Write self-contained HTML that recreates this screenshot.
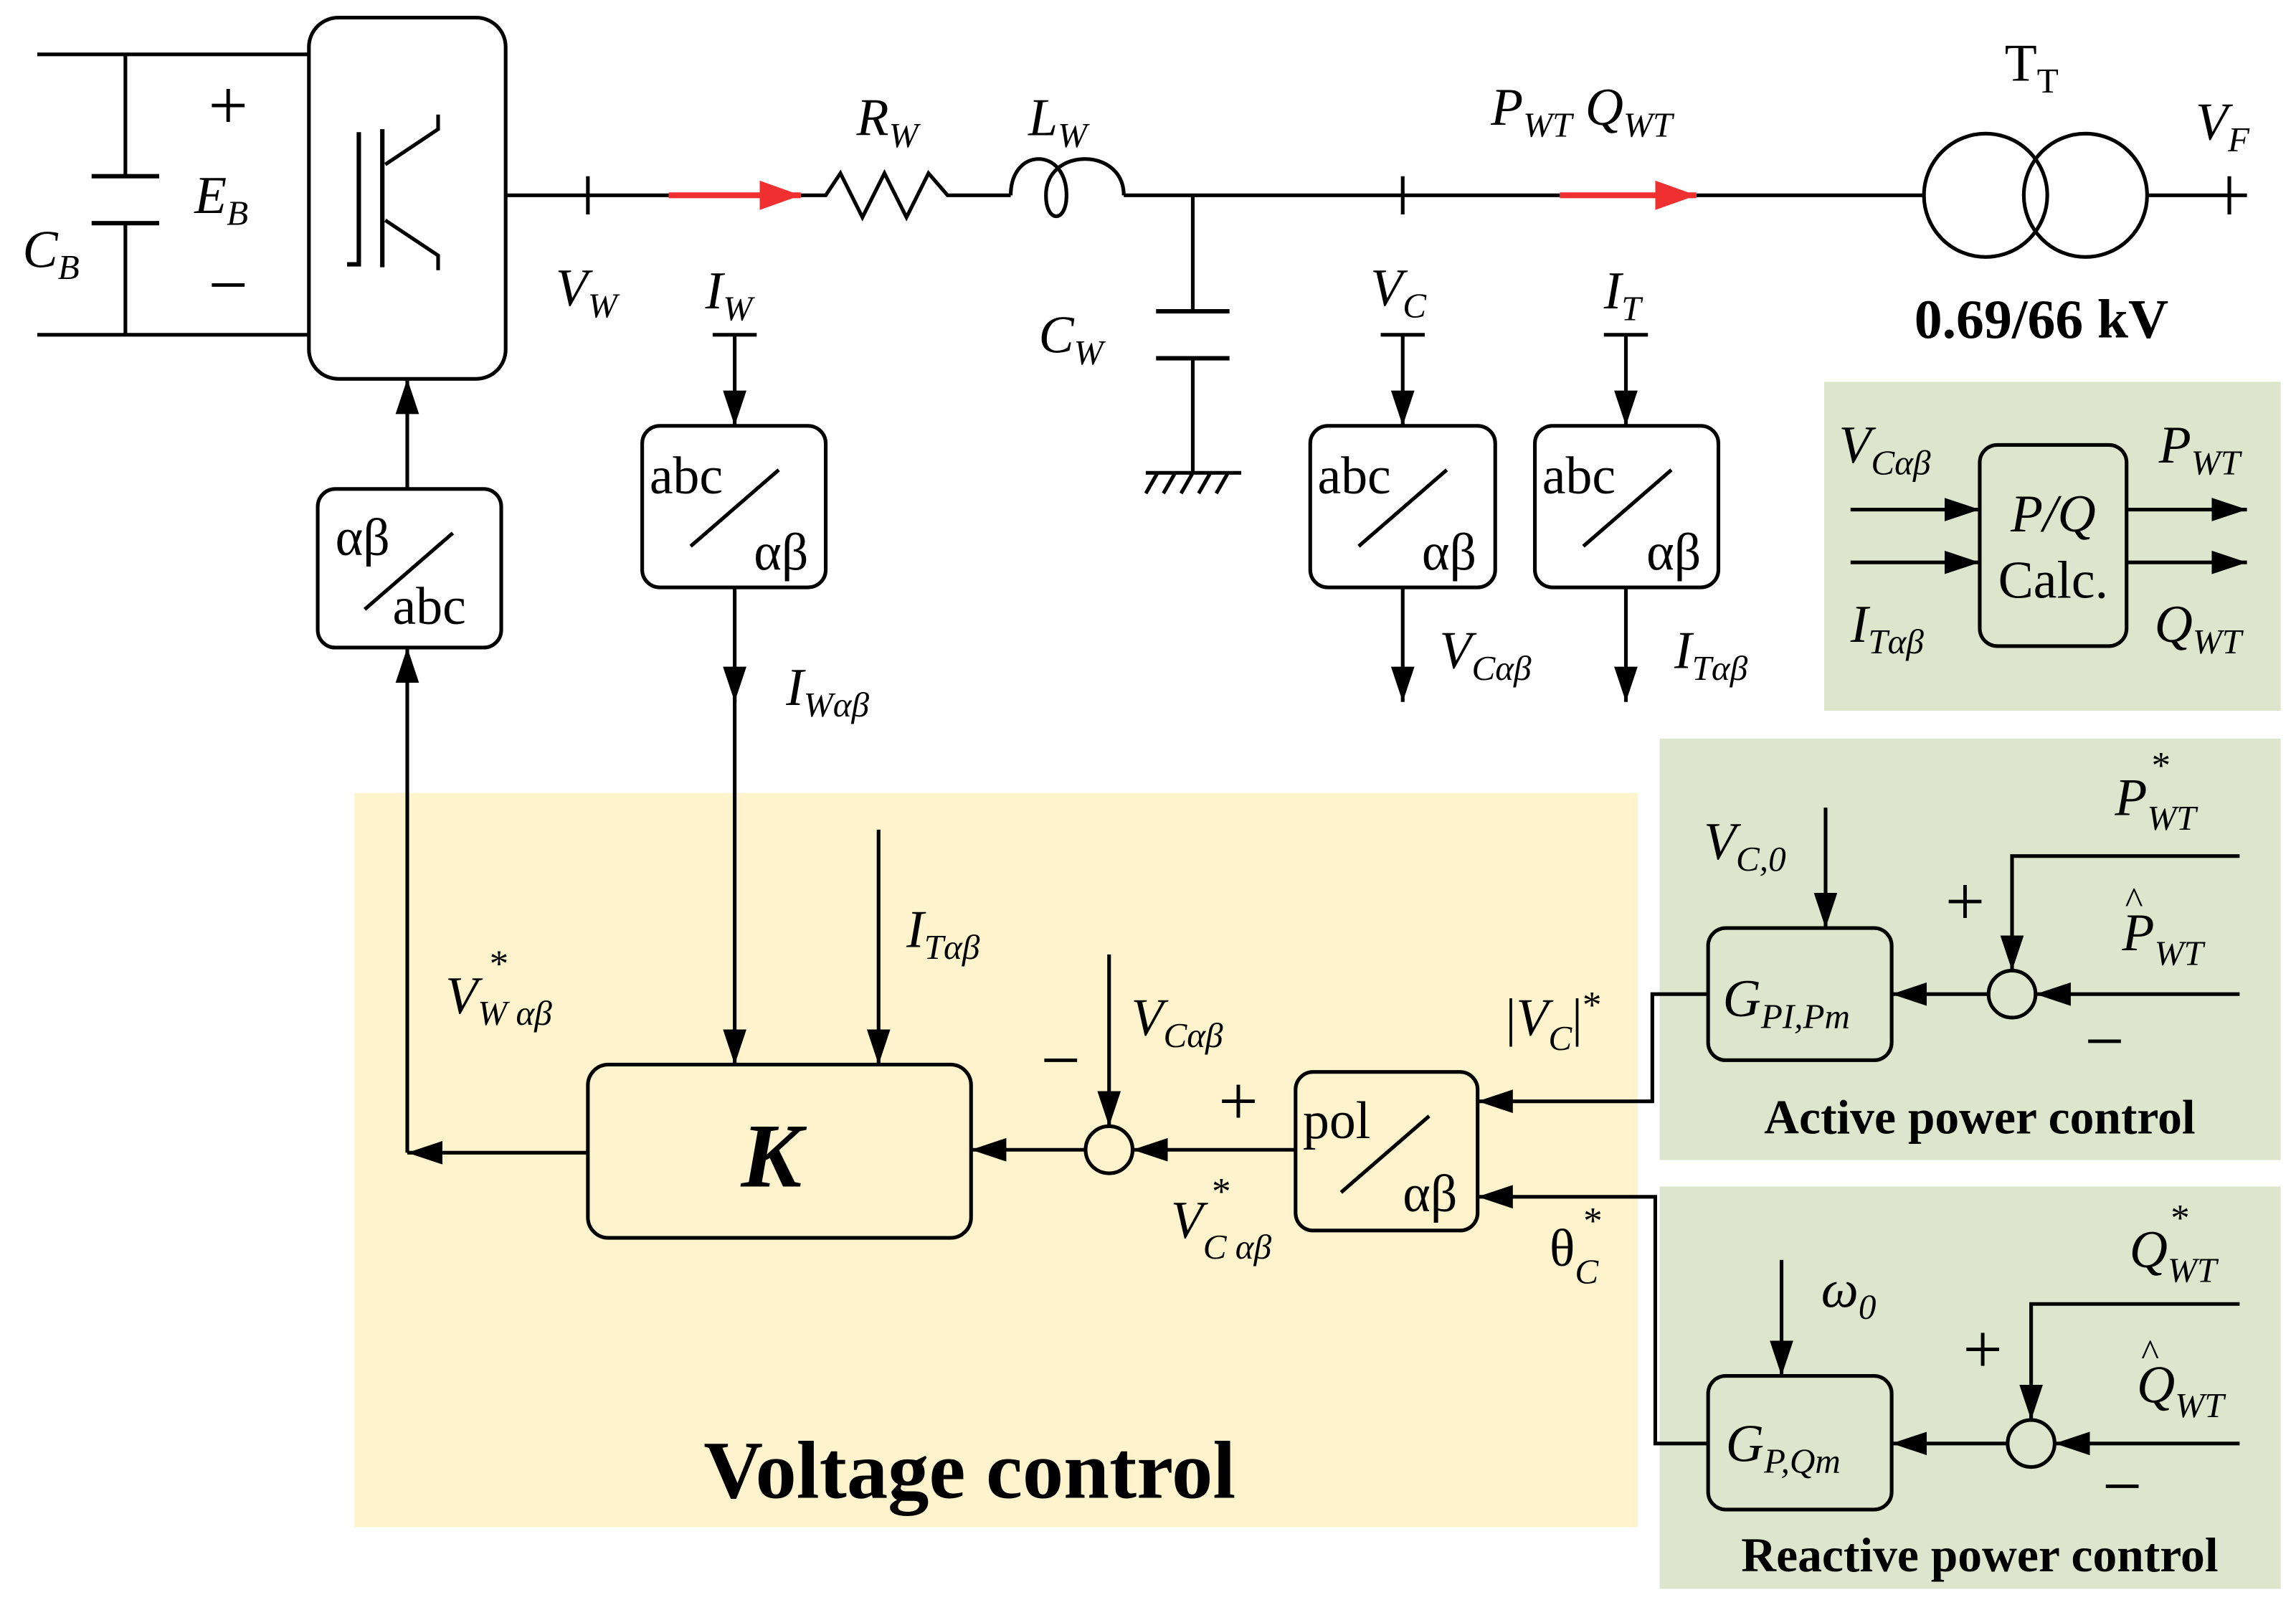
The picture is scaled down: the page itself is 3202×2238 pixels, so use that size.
<!DOCTYPE html>
<html><head><meta charset="utf-8"><style>
html,body{margin:0;padding:0;background:#fff;}
svg{display:block;}
text{font-family:"Liberation Serif",serif;fill:#000;}
.it{font-style:italic;}
.b{font-weight:bold;}
</style></head><body>
<svg width="3202" height="2238" viewBox="0 0 1563 1093" xmlns="http://www.w3.org/2000/svg">
<defs>
<marker id="ar" markerUnits="userSpaceOnUse" markerWidth="26" markerHeight="18" refX="24" refY="8" orient="auto"><path d="M0,0 L24,8 L0,16 z" fill="#000"/></marker>
<marker id="rr" markerUnits="userSpaceOnUse" markerWidth="30" markerHeight="22" refX="28" refY="10" orient="auto"><path d="M0,0 L28,10 L0,20 z" fill="#f03030"/></marker>
</defs>
<rect x="241" y="540" width="874" height="500" fill="#fdf3cc"/>
<rect x="1242" y="260" width="311" height="224" fill="#dde6cd"/>
<rect x="1130" y="503" width="423" height="287" fill="#dde6cd"/>
<rect x="1130" y="808" width="423" height="274" fill="#dde6cd"/>
<g stroke="#000" stroke-width="2.5" fill="none">
<path d="M25,37 H210 M25,228 H210 M85,37 V120 M85,152 V228"/>
<path d="M62,120 H108 M62,152 H108" stroke-width="3"/>
<rect x="210" y="12" width="134" height="246" rx="20"/>
<path d="M244,90 V180 H236 M260,88 V182" stroke-width="3"/>
<path d="M262,112 L298,88 V78 M262,150 L298,174 V184"/>
<path d="M344,133 H455 M545,133 H562 L572,118 L587,148 L602,118 L617,148 L632,118 L645,133 H688 M765,133 H1062 M1155,133 H1310 M1462,133 H1530"/>
<path d="M688,133 C688,100 726,100 726,133 C726,152 712,152 712,133 C712,100 765,100 765,133"/>
<path d="M400,120 V146 M955,120 V146 M1518,120 V146"/>
<circle cx="1352" cy="133" r="42"/><circle cx="1420" cy="133" r="42"/>
<path d="M812,133 V212 M812,244 V322 M780,322 H845 M788,322 L780,336 M800,322 L792,336 M812,322 L804,336 M824,322 L816,336 M836,322 L828,336"/>
<path d="M787,212 H837 M787,244 H837" stroke-width="3"/>
</g>
<g stroke="#f03030" stroke-width="4" fill="none">
<path d="M455,133 H545" marker-end="url(#rr)"/>
<path d="M1062,133 H1155" marker-end="url(#rr)"/>
</g>
<g stroke="#000" stroke-width="2.5" fill="none">
<path d="M485,228 H515 M940,228 H970 M1092,228 H1122"/>
<path d="M500,228 V290" marker-end="url(#ar)"/>
<path d="M955,228 V290" marker-end="url(#ar)"/>
<path d="M1107,228 V290" marker-end="url(#ar)"/>
<rect x="437" y="290" width="125" height="110" rx="12"/>
<rect x="892" y="290" width="126" height="110" rx="12"/>
<rect x="1045" y="290" width="125" height="110" rx="12"/>
<rect x="216" y="333" width="125" height="108" rx="12"/>
<path d="M470,372 L530,320 M925,372 L985,320 M1078,372 L1138,320 M248,415 L308,363"/>
<path d="M955,400 V478" marker-end="url(#ar)"/>
<path d="M1107,400 V478" marker-end="url(#ar)"/>
<path d="M500,400 V478" marker-end="url(#ar)"/>
<path d="M500,470 V725" marker-end="url(#ar)"/>
<path d="M277,333 V258" marker-end="url(#ar)"/>
<path d="M277,785 V441" marker-end="url(#ar)"/>
<path d="M400,785 H277" marker-end="url(#ar)"/>
<rect x="400" y="725" width="261" height="118" rx="14"/>
<path d="M598,565 V725" marker-end="url(#ar)"/>
<circle cx="755" cy="783" r="16"/>
<path d="M739,783 H661" marker-end="url(#ar)"/>
<path d="M755,650 V767" marker-end="url(#ar)"/>
<path d="M882,783 H771" marker-end="url(#ar)"/>
<rect x="882" y="730" width="124" height="108" rx="12"/>
<path d="M913,812 L973,760"/>
<path d="M1163,677 H1125 V750 H1006" marker-end="url(#ar)"/>
<path d="M1163,983 H1127 V815 H1006" marker-end="url(#ar)"/>
<rect x="1163" y="632" width="125" height="90" rx="12"/>
<path d="M1243,550 V632" marker-end="url(#ar)"/>
<circle cx="1370" cy="677" r="16"/>
<path d="M1354,677 H1288" marker-end="url(#ar)"/>
<path d="M1525,583 H1370 V661" marker-end="url(#ar)"/>
<path d="M1525,677 H1386" marker-end="url(#ar)"/>
<rect x="1163" y="937" width="125" height="91" rx="12"/>
<path d="M1213,858 V937" marker-end="url(#ar)"/>
<circle cx="1383" cy="983" r="16"/>
<path d="M1367,983 H1288" marker-end="url(#ar)"/>
<path d="M1525,888 H1383 V967" marker-end="url(#ar)"/>
<path d="M1525,983 H1399" marker-end="url(#ar)"/>
<rect x="1348" y="303" width="100" height="137" rx="12"/>
<path d="M1260,347 H1348" marker-end="url(#ar)"/>
<path d="M1260,383 H1348" marker-end="url(#ar)"/>
<path d="M1448,347 H1530" marker-end="url(#ar)"/>
<path d="M1448,383 H1530" marker-end="url(#ar)"/>
</g>
<g font-size="36">
<text x="155" y="88" text-anchor="middle" font-size="48">+</text>
<text x="155" y="210" text-anchor="middle" font-size="48">−</text>
<text x="132" y="145" class="it">E<tspan font-size="24" dy="8">B</tspan></text>
<text x="15" y="182" class="it">C<tspan font-size="24" dy="8">B</tspan></text>
<text x="583" y="92" class="it">R<tspan font-size="24" dy="8">W</tspan></text>
<text x="700" y="92" class="it">L<tspan font-size="24" dy="8">W</tspan></text>
<text x="1015" y="85" class="it">P<tspan font-size="24" dy="8">WT</tspan><tspan dy="-8"> Q</tspan><tspan font-size="24" dy="8">WT</tspan></text>
<text x="1365" y="55">T<tspan font-size="24" dy="8">T</tspan></text>
<text x="1495" y="95" class="it">V<tspan font-size="24" dy="8">F</tspan></text>
<text x="1390" y="230" text-anchor="middle" class="b" font-size="38">0.69/66 kV</text>
<text x="378" y="208" class="it">V<tspan font-size="24" dy="8">W</tspan></text>
<text x="480" y="210" class="it">I<tspan font-size="24" dy="8">W</tspan></text>
<text x="707" y="240" class="it">C<tspan font-size="24" dy="8">W</tspan></text>
<text x="933" y="208" class="it">V<tspan font-size="24" dy="8">C</tspan></text>
<text x="1092" y="210" class="it">I<tspan font-size="24" dy="8">T</tspan></text>
<text x="442" y="336">abc</text><text x="513" y="388">αβ</text>
<text x="897" y="336">abc</text><text x="968" y="388">αβ</text>
<text x="1050" y="336">abc</text><text x="1121" y="388">αβ</text>
<text x="228" y="378">αβ</text><text x="267" y="425">abc</text>
<text x="887" y="775">pol</text><text x="955" y="825">αβ</text>
<text x="535" y="480" class="it">I<tspan font-size="24" dy="8">Wαβ</tspan></text>
<text x="980" y="455" class="it">V<tspan font-size="24" dy="8">Cαβ</tspan></text>
<text x="1140" y="455" class="it">I<tspan font-size="24" dy="8">Tαβ</tspan></text>
<text x="617" y="645" class="it">I<tspan font-size="24" dy="8">Tαβ</tspan></text>
<text x="303" y="690" class="it">V<tspan font-size="24" dy="8">W αβ</tspan></text>
<text x="333" y="665" font-size="26">*</text>
<text x="525" y="808" text-anchor="middle" class="b it" font-size="62">K</text>
<text x="722" y="738" text-anchor="middle" font-size="48">−</text>
<text x="770" y="705" class="it">V<tspan font-size="24" dy="8">Cαβ</tspan></text>
<text x="843" y="766" text-anchor="middle" font-size="48">+</text>
<text x="797" y="843" class="it">V<tspan font-size="24" dy="14">C αβ</tspan></text>
<text x="825" y="820" font-size="26">*</text>
<text x="1025" y="705">|<tspan class="it">V</tspan><tspan font-size="24" dy="10" class="it">C</tspan><tspan dy="-10">|</tspan><tspan font-size="26" dy="-12">*</tspan></text>
<text x="1055" y="862">θ<tspan font-size="24" dy="12" class="it">C</tspan></text>
<text x="1078" y="840" font-size="26">*</text>
<text x="1160" y="585" class="it">V<tspan font-size="24" dy="8">C,0</tspan></text>
<text x="1440" y="555" class="it">P<tspan font-size="24" dy="10">WT</tspan></text>
<text x="1465" y="530" font-size="26">*</text>
<text x="1338" y="630" text-anchor="middle" font-size="48">+</text>
<text x="1445" y="647" class="it">P<tspan font-size="24" dy="10">WT</tspan></text>
<text x="1447" y="622" font-size="26">^</text>
<text x="1433" y="725" text-anchor="middle" font-size="48">−</text>
<text x="1173" y="692" class="it">G<tspan font-size="24" dy="8">PI,Pm</tspan></text>
<text x="1348" y="772" text-anchor="middle" class="b" font-size="33">Active power control</text>
<text x="1240" y="890" class="it">ω<tspan font-size="24" dy="8">0</tspan></text>
<text x="1450" y="863" class="it">Q<tspan font-size="24" dy="10">WT</tspan></text>
<text x="1478" y="838" font-size="26">*</text>
<text x="1350" y="935" text-anchor="middle" font-size="48">+</text>
<text x="1455" y="955" class="it">Q<tspan font-size="24" dy="10">WT</tspan></text>
<text x="1458" y="930" font-size="26">^</text>
<text x="1445" y="1028" text-anchor="middle" font-size="48">−</text>
<text x="1175" y="995" class="it">G<tspan font-size="24" dy="8">P,Qm</tspan></text>
<text x="1348" y="1070" text-anchor="middle" class="b" font-size="33">Reactive power control</text>
<text x="1252" y="315" class="it">V<tspan font-size="24" dy="8">Cαβ</tspan></text>
<text x="1260" y="437" class="it">I<tspan font-size="24" dy="8">Tαβ</tspan></text>
<text x="1470" y="315" class="it">P<tspan font-size="24" dy="8">WT</tspan></text>
<text x="1467" y="437" class="it">Q<tspan font-size="24" dy="8">WT</tspan></text>
<text x="1398" y="362" text-anchor="middle" class="it">P/Q</text>
<text x="1398" y="407" text-anchor="middle">Calc.</text>
<text x="660" y="1020" text-anchor="middle" class="b" font-size="56">Voltage control</text>
</g>
</svg>
</body></html>
